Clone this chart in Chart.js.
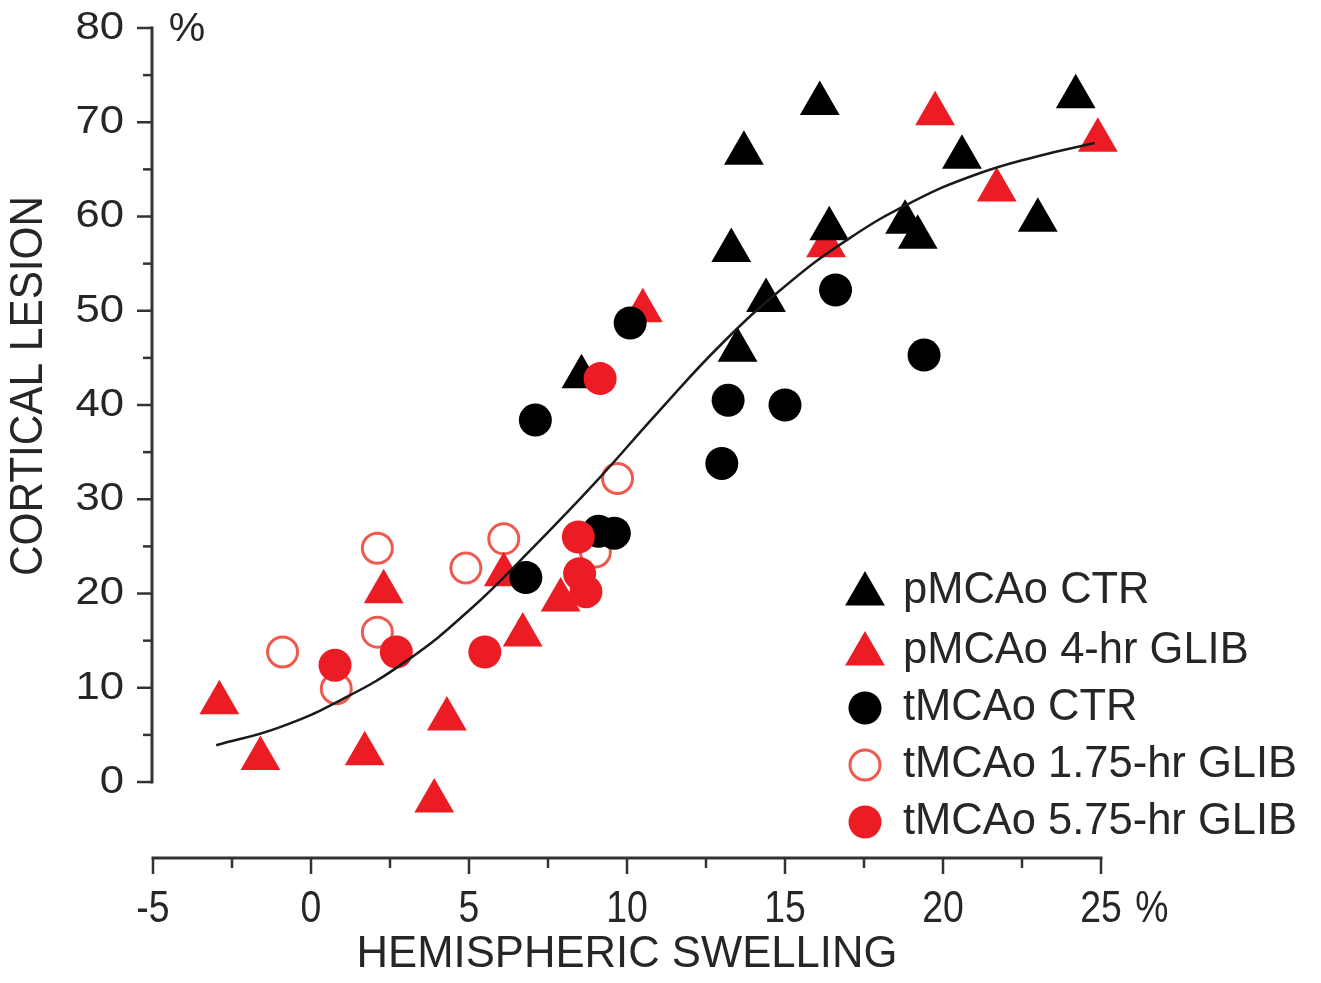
<!DOCTYPE html>
<html>
<head>
<meta charset="utf-8">
<script src="https://cdn.jsdelivr.net/npm/chart.js@4.4.1/dist/chart.umd.min.js"></script>
<style>
  html, body { margin: 0; padding: 0; background: #fff; }
  canvas { display: block; }
</style>
</head>
<body>
<canvas id="grafico" width="1321" height="983"></canvas>
<script>
// ---- data ----
const xTicks = [-5, 0, 5, 10, 15, 20, 25];
const yTicks = [0, 10, 20, 30, 40, 50, 60, 70, 80];

const pCtr = [
  [16.1, 72.0], [24.2, 72.7], [13.7, 66.7], [20.6, 66.3], [23.0, 59.6],
  [13.3, 56.4], [16.4, 58.7], [18.8, 59.4], [19.2, 57.8], [14.4, 51.1],
  [13.5, 45.8], [8.56, 43.0]
];
const p4hr = [
  [19.75, 70.9], [24.9, 68.1], [21.7, 62.8], [16.3, 56.9], [10.5, 50.0],
  [2.3, 20.2], [6.1, 22.0], [6.7, 15.6], [7.9, 19.3], [-2.9, 8.4],
  [-1.6, 2.5], [1.7, 3.0], [4.3, 6.7], [3.9, -2.0]
];
const tCtr = [
  [16.6, 52.2], [19.4, 45.3], [13.2, 40.5], [15.0, 40.0], [13.0, 33.8],
  [10.1, 48.7], [7.1, 38.4], [9.6, 26.4], [9.1, 26.6], [6.8, 21.7]
];
const t175 = [
  [9.7, 32.2], [9.0, 24.4], [6.1, 25.8], [2.1, 24.8], [4.9, 22.7],
  [-0.9, 13.8], [0.8, 9.9], [2.1, 15.9]
];
const t575 = [
  [9.15, 42.8], [8.46, 26.0], [8.5, 22.1], [8.7, 20.2], [0.76, 12.4],
  [2.7, 13.8], [5.5, 13.8]
];
// fitted curve, points
const curva = [
  [-3, 3.9], [-1, 5.8], [1, 8.8], [3, 12.8], [5, 18.2], [7, 24.8], [9, 31.8],
  [11, 39.3], [13, 46.5], [15, 52.6], [17, 57.6], [19, 61.5], [21, 64.4],
  [23, 66.4], [24.8, 67.8]
];

const VERMELHO = "#ec1c24";
const SALMAO = "#ef5a4e";
const TEXTO = "#262626";
const FONTE = '"Liberation Sans", Arial, sans-serif';

const pts = arr => arr.map(([x, y]) => ({ x, y }));

const datasets = [
  { label: "pMCAo CTR", data: pts(pCtr), pointStyle: "triangle", pointRadius: 23,
    backgroundColor: "#000", borderColor: "#000", borderWidth: 0, order: 3 },
  { label: "pMCAo 4-hr GLIB", data: pts(p4hr), pointStyle: "triangle", pointRadius: 23,
    backgroundColor: VERMELHO, borderColor: VERMELHO, borderWidth: 0, order: 4 },
  { label: "tMCAo CTR", data: pts(tCtr), pointStyle: "circle", pointRadius: 16.5,
    backgroundColor: "#000", borderColor: "#000", borderWidth: 0, order: 2 },
  { label: "tMCAo 1.75-hr GLIB", data: pts(t175), pointStyle: "circle", pointRadius: 15,
    backgroundColor: "rgba(255,255,255,0)", borderColor: SALMAO, borderWidth: 3, order: 5 },
  { label: "tMCAo 5.75-hr GLIB", data: pts(t575), pointStyle: "circle", pointRadius: 16.5,
    backgroundColor: VERMELHO, borderColor: VERMELHO, borderWidth: 0, order: 1 },
  { label: "fit", data: pts(curva), showLine: true, pointRadius: 0, borderColor: "#1a1a1a",
    borderWidth: 2.5, tension: 0.45, order: 0 }
];
datasets.forEach(d => { d.clip = false; d.pointHoverRadius = d.pointRadius; });

// text squeezed or stretched horizontally, like the original's lettering
function texto(ctx, s, x, y, sx) {
  ctx.save();
  ctx.translate(x, y);
  ctx.scale(sx, 1);
  ctx.fillText(s, 0, 0);
  ctx.restore();
}

// axes, labels and legend drawn by hand to get the offset axes of the original
const eixos = {
  id: "eixos",
  afterDraw(chart) {
    const ctx = chart.ctx;
    const xs = chart.scales.x, ys = chart.scales.y;
    const axX = xs.getPixelForValue(-5) - 1;
    const axY = chart.chartArea.bottom;
    ctx.save();
    ctx.strokeStyle = "#333";
    ctx.lineCap = "butt";

    // y axis
    ctx.lineWidth = 3;
    ctx.beginPath();
    ctx.moveTo(axX, ys.getPixelForValue(0) + 1.5);
    ctx.lineTo(axX, ys.getPixelForValue(80) - 1.5);
    ctx.stroke();
    ctx.lineWidth = 2.5;
    for (let v = 0; v <= 80; v += 5) {
      const py = ys.getPixelForValue(v);
      const len = v % 10 === 0 ? 15 : 9;
      ctx.beginPath();
      ctx.moveTo(axX, py);
      ctx.lineTo(axX - len, py);
      ctx.stroke();
    }
    ctx.fillStyle = TEXTO;
    ctx.font = "39px " + FONTE;
    ctx.textAlign = "right";
    ctx.textBaseline = "middle";
    yTicks.forEach(v => texto(ctx, String(v), 124, ys.getPixelForValue(v), 1.12));
    ctx.textAlign = "center";
    ctx.font = "41px " + FONTE;
    ctx.fillText("%", 187, 30);

    // x axis
    ctx.lineWidth = 3;
    ctx.beginPath();
    ctx.moveTo(xs.getPixelForValue(-5) - 1.5, axY);
    ctx.lineTo(xs.getPixelForValue(25) + 1.5, axY);
    ctx.stroke();
    ctx.lineWidth = 2.5;
    for (let v = -5; v <= 25; v += 2.5) {
      const px = xs.getPixelForValue(v);
      const len = v % 5 === 0 ? 16 : 10;
      ctx.beginPath();
      ctx.moveTo(px, axY);
      ctx.lineTo(px, axY + len);
      ctx.stroke();
    }
    ctx.font = "44px " + FONTE;
    ctx.textAlign = "center";
    ctx.textBaseline = "alphabetic";
    xTicks.forEach(v => texto(ctx, String(v), xs.getPixelForValue(v), 922, 0.85));
    texto(ctx, "%", 1152, 922, 0.85);

    // axis titles
    ctx.font = "45px " + FONTE;
    ctx.textAlign = "center";
    ctx.textBaseline = "middle";
    texto(ctx, "HEMISPHERIC SWELLING", 627, 955, 0.97);
    ctx.save();
    ctx.translate(29, 386);
    ctx.rotate(-Math.PI / 2);
    ctx.font = "46px " + FONTE;
    texto(ctx, "CORTICAL LESION", 0, 0, 0.92);
    ctx.restore();

    // legend
    const linhas = [591, 651, 708, 765, 822];
    ctx.font = "43.5px " + FONTE;
    ctx.textAlign = "left";
    ctx.textBaseline = "middle";
    chart.data.datasets.slice(0, 5).forEach((d, i) => {
      const y = linhas[i];
      ctx.fillStyle = d.backgroundColor;
      ctx.strokeStyle = d.borderColor;
      ctx.lineWidth = d.borderWidth;
      Chart.helpers.drawPoint(ctx, {
        pointStyle: d.pointStyle, radius: d.pointRadius, rotation: 0, borderWidth: d.borderWidth
      }, 865, d.pointStyle === "triangle" ? y + 3 : y);
      ctx.fillStyle = TEXTO;
      ctx.fillText(d.label, 903, y);
    });
    ctx.restore();
  }
};

new Chart(document.getElementById("grafico"), {
  type: "scatter",
  data: { datasets },
  options: {
    responsive: false,
    animation: false,
    layout: { padding: { left: 153, right: 220, top: 28, bottom: 125 } },
    plugins: { legend: { display: false }, tooltip: { enabled: false } },
    scales: {
      x: { type: "linear", min: -5, max: 25, display: false },
      y: { type: "linear", min: -8.06, max: 80, display: false }
    }
  },
  plugins: [eixos]
});
</script>
</body>
</html>
